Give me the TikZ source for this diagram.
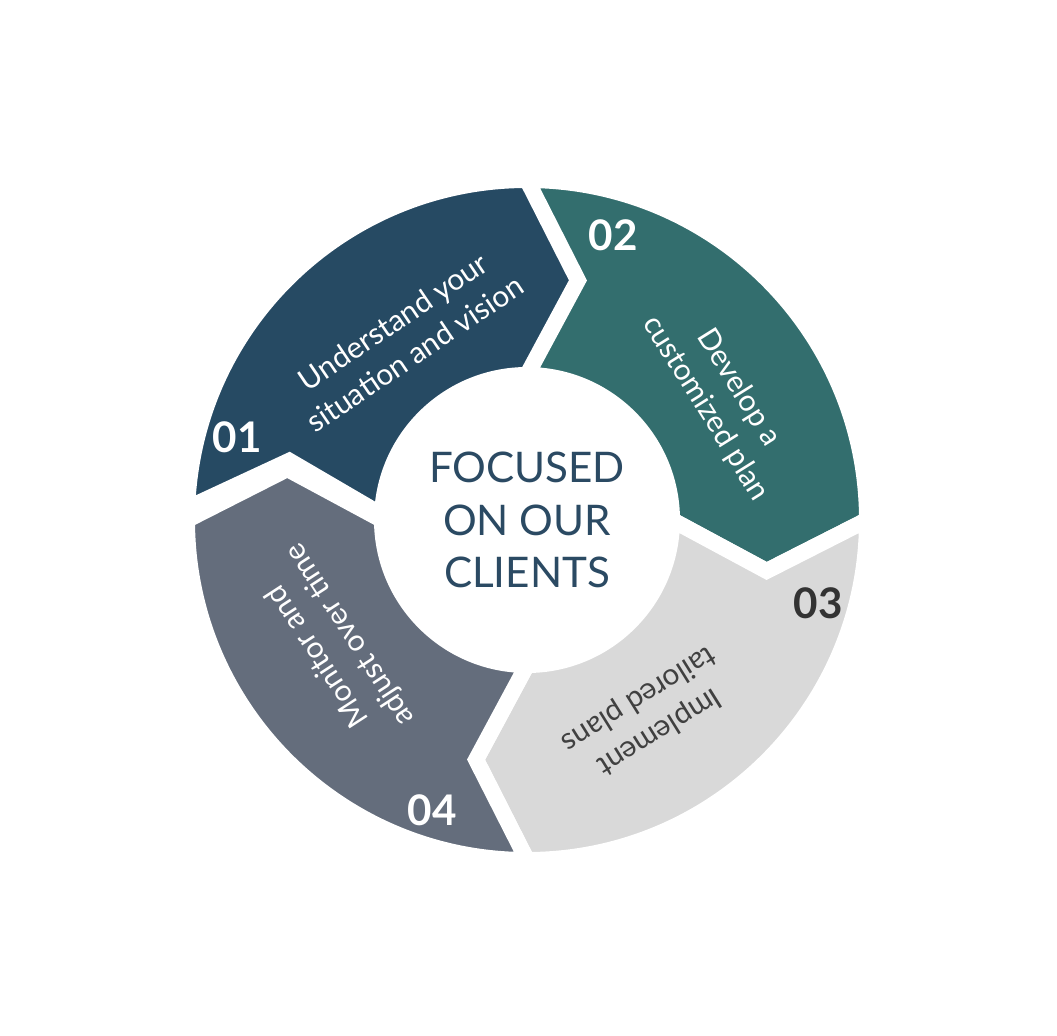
\documentclass[tikz,border=0pt]{standalone}
\usepackage{fontspec}
\setmainfont{Lato}
\usetikzlibrary{calc,positioning}
\definecolor{cA}{HTML}{264A63}
\definecolor{cB}{HTML}{336E6E}
\definecolor{cC}{HTML}{D9D9D9}
\definecolor{cD}{HTML}{646D7C}
\definecolor{ctext}{HTML}{2B4A63}
\tikzset{
  seg/.style={draw=white, line width=0.16cm, line join=miter},
  lbl/.style={text=white, align=center, font=\fontsize{8.5}{11}\selectfont},
  num/.style={text=white, font=\fontsize{12}{14}\selectfont\bfseries},
}
\begin{document}
\begin{tikzpicture}
  \useasboundingbox (0,0) rectangle (10.57,10.35);
  \coordinate (o) at (5.27,5.15);

  % ring of four arrow segments
  \foreach \s/\col in {178/cA, 90/cB, 0/cC, -90/cD}{
    \pgfmathsetmacro{\e}{\s-90}
    \filldraw[seg, fill=\col] ($(o)+(\s:3.4)$) arc[start angle=\s, end angle=\e, radius=3.4]
      -- ($(o)+(\e-12:2.45)$) -- ($(o)+(\e:1.45)$)
      arc[start angle=\e, end angle=\s, radius=1.45]
      -- ($(o)+(\s-12:2.45)$) -- cycle;
  }
  \fill[white] (o) circle[radius=1.5];

  \node (centre) at (o) [text=ctext, align=center, font=\fontsize{12}{15}\selectfont] {FOCUSED\\ON OUR\\CLIENTS};

  \node (t1) at ($(o)+(124:2.2)$) [lbl, rotate=34] {Understand your\\situation and vision};
  \node (t2) at ($(o)+(32:2.3)$) [lbl, rotate=-58] {Develop a\\customized plan};
  \node (t3) at ($(o)+(-58:2.3)$) [lbl, text=black!75, rotate=212] {Implement\\tailored plans};
  \node (t4) at ($(o)+(213:2.3)$) [lbl, rotate=123] {Monitor and\\adjust over time};

  \node (n1) at (2.37,5.98) [num] {01};
  \node (n2) at (6.13,8.00) [num] {02};
  \node (n3) at (8.18,4.32) [num, text=black!80] {03};
  \node (n4) at (4.32,2.25) [num] {04};
\end{tikzpicture}
\end{document}
